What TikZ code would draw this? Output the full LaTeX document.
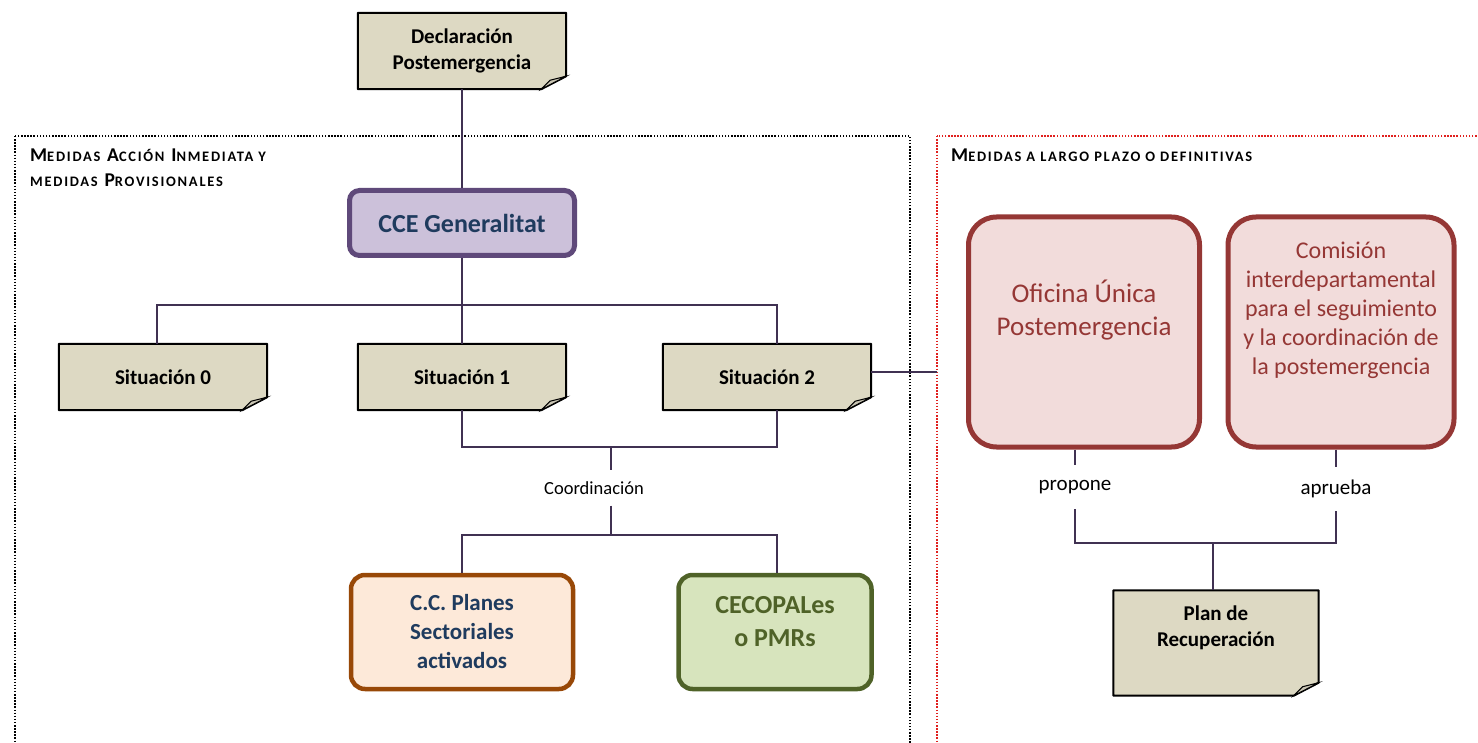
\documentclass[tikz,border=0pt]{standalone}
\usepackage{fontspec}
\setmainfont{Carlito}
\usetikzlibrary{positioning,backgrounds}

\definecolor{notefill}{HTML}{DDD9C3}
\definecolor{foldfill}{HTML}{C9C5B3}
\definecolor{linkcol}{HTML}{403152}
\definecolor{cceline}{HTML}{5F497A}
\definecolor{ccefill}{HTML}{CCC1DA}
\definecolor{navy}{HTML}{1F3B5E}
\definecolor{planline}{HTML}{984807}
\definecolor{planfill}{HTML}{FDE9D9}
\definecolor{cecline}{HTML}{4F6228}
\definecolor{cecfill}{HTML}{D7E4BD}
\definecolor{redline}{HTML}{953735}
\definecolor{redfill}{HTML}{F2DCDB}
\definecolor{framered}{HTML}{E0201E}

\newcommand\hcap[1]{{\fontsize{19.5}{25}\selectfont #1}}
\newcommand\lcap[1]{{\fontsize{14.5}{25}\selectfont #1}}

\tikzset{
	link/.style={draw=linkcol, line width=2pt},
	frame/.style={line width=1.5pt, dash pattern=on 1.5pt off 1.6pt},
	notebox/.style={minimum width=208pt, minimum height=66pt, inner sep=0pt, align=center,
		font=\fontsize{21}{26}\selectfont\bfseries},
	heading/.style={inner sep=0pt, align=left,
		font=\fontsize{19.5}{25}\selectfont\bfseries\addfontfeature{LetterSpace=12}},
	roundbox/.style={rounded corners=#1, inner sep=0pt, align=center},
	redbox/.style={roundbox=28pt, draw=redline, fill=redfill, line width=5pt,
		minimum width=231pt, minimum height=230pt},
	redtext/.style={inner sep=0pt, align=center, text=redline},
	smalltext/.style={inner sep=0pt, minimum height=44pt, font=\fontsize{21}{25}\selectfont}
}

\begin{document}
\begin{tikzpicture}[x=1pt, y=-1pt]
	\useasboundingbox (0,0) rectangle (1478,743);

	\draw[frame] (15,136) rectangle (910,770);
	\draw[frame, framered] (937,136) rectangle (1495,770);

	\node[heading, anchor=north west] (lefthead) at (30,149)
		{\hcap{M}\lcap{EDIDAS} \hcap{A}\lcap{CCIÓN} \hcap{I}\lcap{NMEDIATA Y}\\\lcap{MEDIDAS} \hcap{P}\lcap{ROVISIONALES}};
	\node[heading, anchor=north west] (righthead) at (951,149)
		{\hcap{M}\lcap{EDIDAS A LARGO PLAZO O DEFINITIVAS}};

	\node[notebox, minimum height=76pt] (decl) at (462,51) {Declaración\\Postemergencia};
	\node[roundbox=10pt, draw=cceline, fill=ccefill, line width=5pt, minimum width=225pt, minimum height=65pt,
		text=navy, font=\fontsize{26}{30}\selectfont\bfseries] (cce) at (462,223) {CCE Generalitat};

	\node[notebox] (sit0) at (163,377) {Situación 0};
	\node[notebox] (sit1) at (462,377) {Situación 1};
	\node[notebox] (sit2) at (767,377) {Situación 2};

	\node[smalltext, minimum height=35pt, font=\fontsize{18.5}{22}\selectfont] (coord) at (594,488) {Coordinación};

	\node[roundbox=14pt, draw=planline, fill=planfill, line width=4.5pt, minimum width=222pt, minimum height=114pt,
		text=navy, font=\fontsize{23}{29}\selectfont\bfseries] (planes) at (462,632) {C.C. Planes\\Sectoriales\\activados};
	\node[roundbox=14pt, draw=cecline, fill=cecfill, line width=4.5pt, minimum width=193pt, minimum height=114pt] (cecop) at (775,632) {};
	\node[redtext, text=cecline, font=\fontsize{26}{33}\selectfont\bfseries] (cecoptxt) at (775,622) {CECOPALes\\o PMRs};

	\node[redbox] (ofi) at (1084,332) {};
	\node[redtext, font=\fontsize{27}{33}\selectfont] (ofitxt) at (1084,310) {Oficina Única\\Postemergencia};
	\node[redbox, minimum width=226pt] (com) at (1341,332) {};
	\node[redtext, font=\fontsize{24}{29}\selectfont] (comtxt) at (1341,310)
		{Comisión\\interdepartamental\\para el seguimiento\\y la coordinación de\\la postemergencia};

	\node[smalltext] (prop) at (1075,487) {propone};
	\node[smalltext] (apr) at (1336,489) {aprueba};

	\node[notebox, minimum width=205pt, minimum height=105pt] (plan) at (1216,643) {};
	\node[notebox, minimum width=0pt, minimum height=0pt] (plantxt) at (1216,628) {Plan de\\Recuperación};

	\begin{scope}[on background layer]
		\foreach \n in {decl,sit0,sit1,sit2,plan}
		{
			\draw[fill=notefill, line width=2pt, line join=round] (\n.north west) -- (\n.north east) -- ([yshift=13pt]\n.south east)
				-- ([xshift=-25pt]\n.south east) -- (\n.south west) -- cycle;
			\draw[fill=foldfill, line width=1pt] ([xshift=-25pt]\n.south east) -- ([xshift=-16pt,yshift=9pt]\n.south east)
				-- ([yshift=13pt]\n.south east) -- cycle;
		}
	\end{scope}

	\coordinate (top) at (462,305);
	\coordinate (bus) at (611,447);
	\coordinate (bus2) at (611,535);
	\coordinate (rbus) at (1213,543);
	\coordinate (edge) at (937,372);

	\draw[link] (decl) -- (cce);
	\draw[link] (cce) -- (top) -| ([xshift=-6pt]sit0.north);
	\draw[link] (top) -- (sit1.north);
	\draw[link] (top) -| ([xshift=10pt]sit2.north);
	\draw[link] (sit1.south) |- (bus) -| ([xshift=10pt]sit2.south);
	\draw[link] (bus) -- (bus |- coord.north);
	\draw[link] (bus2 |- coord.south) -- (bus2);
	\draw[link] ([xshift=2pt]cecop.north) |- (bus2) -| (planes.north);
	\draw[link] (sit2.east |- edge) -- (edge);

	\draw[link] ([xshift=-9pt]ofi.south) -- (prop.north);
	\draw[link] ([xshift=-5pt]com.south) -- (apr.north);
	\draw[link] (prop.south) |- (rbus);
	\draw[link] (apr.south) |- (rbus);
	\draw[link] (rbus) -- ([xshift=-3pt]plan.north);
\end{tikzpicture}
\end{document}
